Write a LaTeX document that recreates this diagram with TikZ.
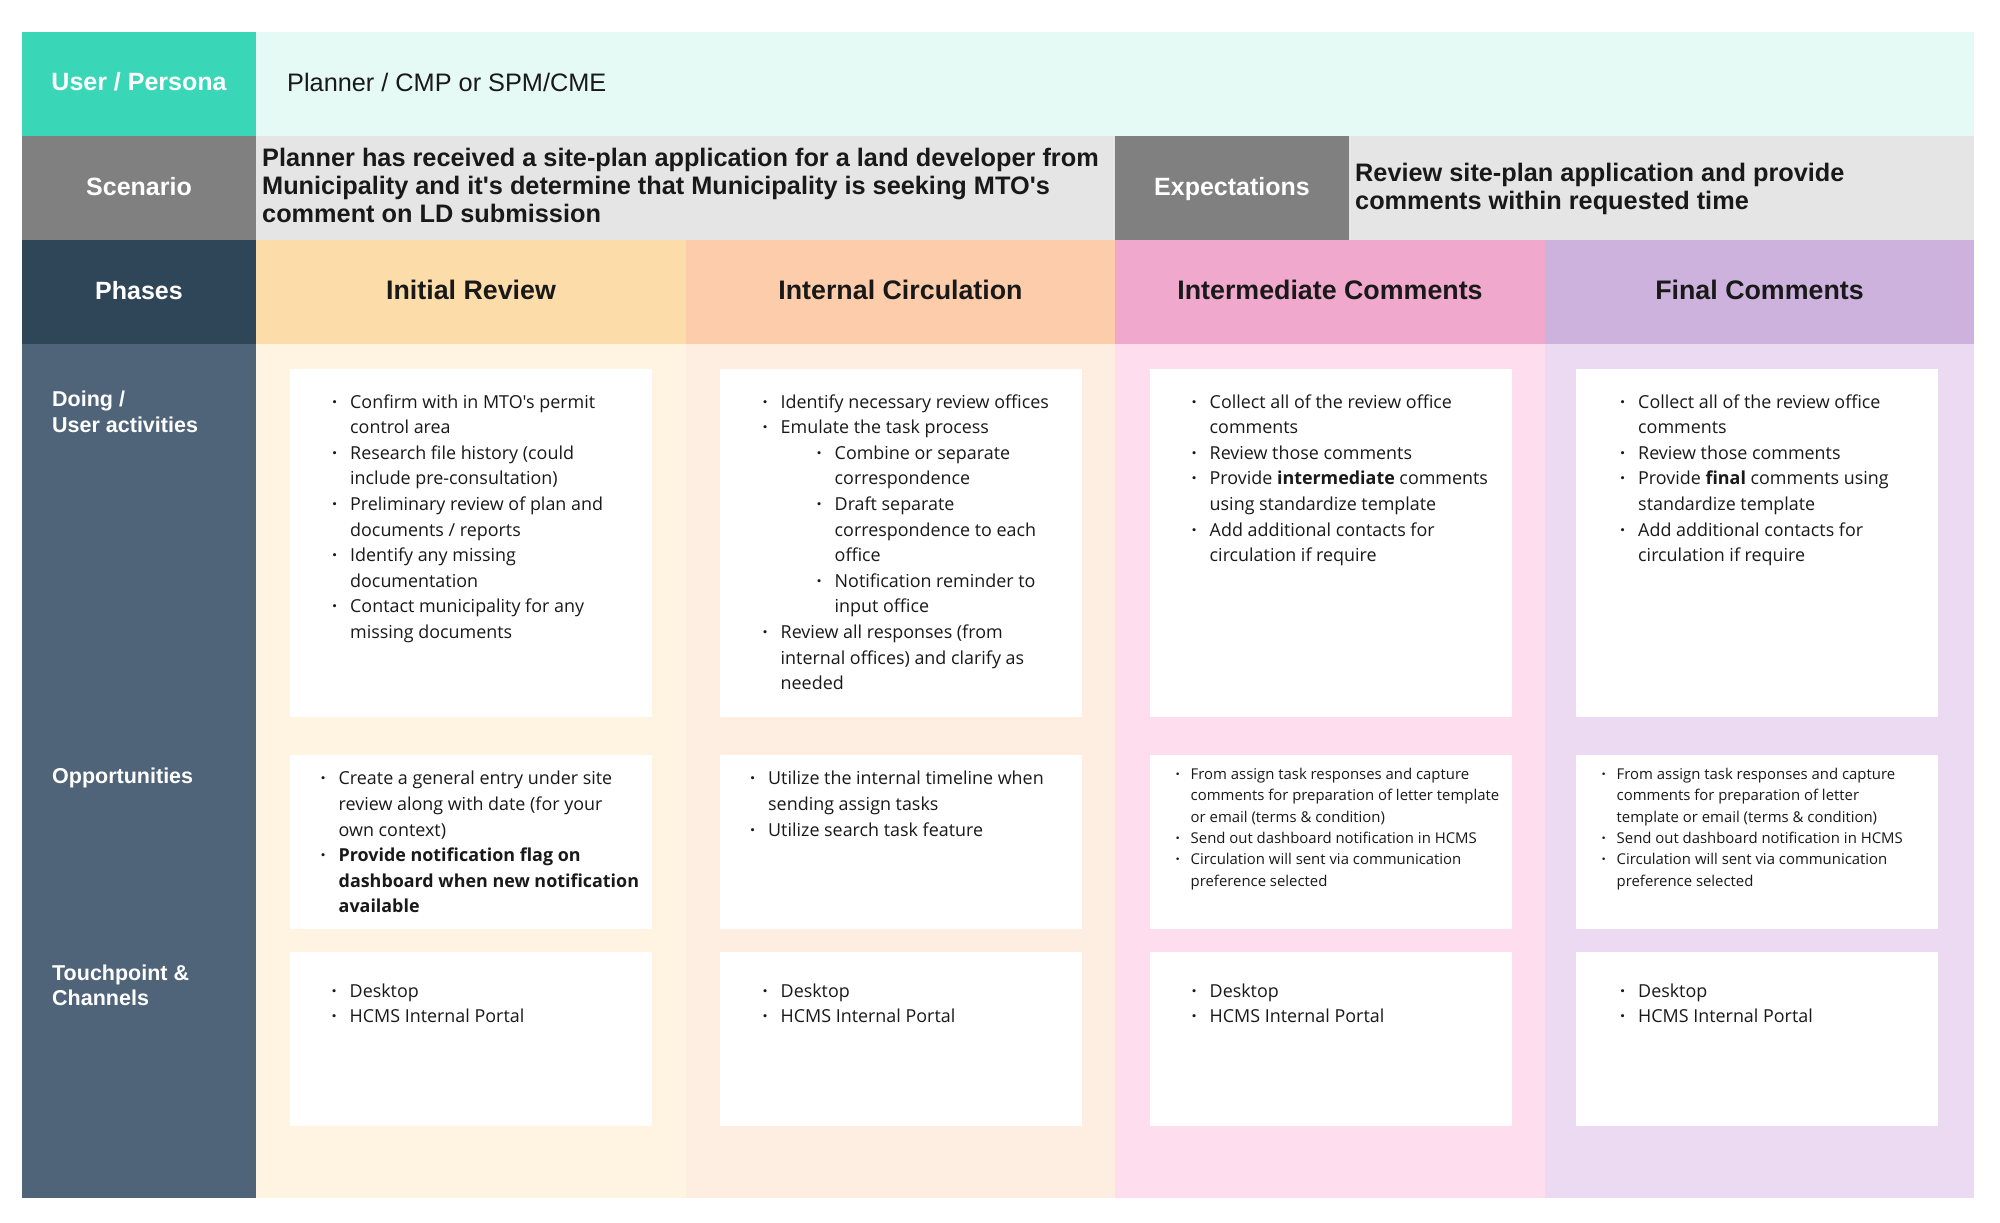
\documentclass[tikz,border=0pt]{standalone}
\usepackage{fontspec}
\setmainfont{Liberation Sans}
\newfontfamily\cardfont{Open Sans}
\usetikzlibrary{positioning}

\definecolor{tealhead}{HTML}{3AD6B8}
\definecolor{tealbody}{HTML}{E6FAF5}
\definecolor{greyhead}{HTML}{808080}
\definecolor{greybody}{HTML}{E5E5E5}
\definecolor{navyhead}{HTML}{2F4558}
\definecolor{slatebody}{HTML}{4F6479}
\definecolor{peachhead}{HTML}{FCDCA9}
\definecolor{peachbody}{HTML}{FFF4E2}
\definecolor{orangehead}{HTML}{FDCDAB}
\definecolor{orangebody}{HTML}{FEEDE1}
\definecolor{pinkhead}{HTML}{F0A8CC}
\definecolor{pinkbody}{HTML}{FDDDEE}
\definecolor{purplehead}{HTML}{CDB2DD}
\definecolor{purplebody}{HTML}{EBDAF2}

\newcommand{\bul}{\llap{\textbf{\textperiodcentered}\hspace{0.72em}}}
\newcommand{\subbul}{\hspace*{54pt}\bul}
\newcommand{\subln}{\hspace*{54pt}}

\tikzset{
  band/.style={inner sep=0pt,outer sep=0pt,minimum height=104pt},
  lab/.style={band,minimum width=234pt,text=white,text height=19pt,text depth=5pt,font=\fontsize{25}{28}\selectfont\bfseries},
  phase/.style={band,minimum width=430pt,text=black!90,text height=20pt,text depth=5pt,font=\fontsize{26.8}{30}\selectfont\bfseries},
  column/.style={inner sep=0pt,outer sep=0pt,minimum width=430pt,minimum height=854pt},
  card/.style={fill=white,inner sep=0pt,outer sep=0pt,minimum width=362pt},
  tallcard/.style={card,minimum height=348pt},
  lowcard/.style={card,minimum height=174pt},
  sidetext/.style={inner sep=0pt,align=left,text=white,font=\fontsize{21.5}{25.6}\selectfont\bfseries},
  blurb/.style={inner sep=0pt,align=left,text=black!90,font=\fontsize{25.3}{28}\selectfont\bfseries},
  items/.style={inner sep=0pt,align=left,text=black!90,font=\cardfont\fontsize{17.9}{25.6}\selectfont},
  smallitems/.style={inner sep=0pt,align=left,text=black!90,font=\cardfont\fontsize{14.9}{21.3}\selectfont}
}

\begin{document}
\begin{tikzpicture}[x=1pt,y=1pt,node distance=0pt]
  \useasboundingbox (0,0) rectangle (2000,-1223);

  % left hand labels
  \node[lab,fill=tealhead,anchor=north west] (persona) at (22,-32) {User / Persona};
  \node[lab,fill=greyhead] (scenario) [below=of persona] {Scenario};
  \node[lab,fill=navyhead] (phases) [below=of scenario] {Phases};
  \node[fill=slatebody,inner sep=0pt,outer sep=0pt,minimum width=234pt,minimum height=854pt] (side) [below=of phases] {};

  % top bands
  \node[band,fill=tealbody,minimum width=1718pt] (personabody) [right=of persona] {};
  \node[band,fill=greybody,minimum width=859pt] (scenariobody) [right=of scenario] {};
  \node[lab,fill=greyhead] (expect) [right=of scenariobody] {Expectations};
  \node[band,fill=greybody,minimum width=625pt] (expectbody) [right=of expect] {};

  % phase headers
  \node[phase,fill=peachhead] (initial) [right=of phases] {Initial Review};
  \node[phase,fill=orangehead,minimum width=429pt] (internal) [right=of initial] {Internal Circulation};
  \node[phase,fill=pinkhead] (intermediate) [right=of internal] {Intermediate Comments};
  \node[phase,fill=purplehead,minimum width=429pt] (final) [right=of intermediate] {Final Comments};

  % phase bodies
  \node[column,fill=peachbody] (initialbody) [below=of initial] {};
  \node[column,fill=orangebody,minimum width=429pt] (internalbody) [below=of internal] {};
  \node[column,fill=pinkbody] (intermediatebody) [below=of intermediate] {};
  \node[column,fill=purplebody,minimum width=429pt] (finalbody) [below=of final] {};

  % cards
  \node[tallcard] (doingA) [below=24.5pt of initialbody.north] {};
  \node[lowcard] (oppA) [below=38pt of doingA] {};
  \node[lowcard] (touchA) [below=23pt of oppA] {};
  \node[tallcard] (doingB) [below=24.5pt of internalbody.north] {};
  \node[lowcard] (oppB) [below=38pt of doingB] {};
  \node[lowcard] (touchB) [below=23pt of oppB] {};
  \node[tallcard,xshift=.5pt] (doingC) [below=24.5pt of intermediatebody.north] {};
  \node[lowcard] (oppC) [below=38pt of doingC] {};
  \node[lowcard] (touchC) [below=23pt of oppC] {};
  \node[tallcard,xshift=-2.5pt] (doingD) [below=24.5pt of finalbody.north] {};
  \node[lowcard] (oppD) [below=38pt of doingD] {};
  \node[lowcard] (touchD) [below=23pt of oppD] {};

  % texts in the bands
  \node[inner sep=0pt,yshift=2pt,font=\fontsize{25.3}{28}\selectfont,text=black!90] (personatext) [right=31pt of personabody.west] {Planner / CMP or SPM/CME};
  \node[blurb,yshift=2.3pt] (scenariotext) [right=6pt of scenariobody.west] {Planner has received a site-plan application for a land developer from\\Municipality and it\textquotesingle s determine that Municipality is seeking MTO\textquotesingle s\\comment on LD submission};
  \node[blurb,yshift=-.5pt] (expecttext) [right=6pt of expectbody.west] {Review site-plan application and provide\\comments within requested time};

  % row names
  \node[sidetext] (doingname) [below right=47pt and 30pt of side.north west] {Doing /\\User activities};
  \node[sidetext] (oppname) [below right=424pt and 30pt of side.north west] {Opportunities};
  \node[sidetext] (touchname) [below right=620.3pt and 30pt of side.north west] {Touchpoint \&\\Channels};

  % doing
  \node[items] (doingAtext) [below right=25.7pt and 60pt of doingA.north west] {\bul Confirm with in MTO's permit\\control area\\\bul Research file history (could\\include pre-consultation)\\\bul Preliminary review of plan and\\documents / reports\\\bul Identify any missing\\documentation\\\bul Contact municipality for any\\missing documents};
  \node[items] (doingBtext) [below right=25.7pt and 61pt of doingB.north west] {\bul Identify necessary review offices\\\bul Emulate the task process\\\subbul Combine or separate\\\subln correspondence\\\subbul Draft separate\\\subln correspondence to each\\\subln office\\\subbul Notification reminder to\\\subln input office\\\bul Review all responses (from\\internal offices) and clarify as\\needed};
  \node[items] (doingCtext) [below right=25.7pt and 60pt of doingC.north west] {\bul Collect all of the review office\\comments\\\bul Review those comments\\\bul Provide \textbf{intermediate} comments\\using standardize template\\\bul Add additional contacts for\\circulation if require};
  \node[items] (doingDtext) [below right=25.7pt and 62pt of doingD.north west] {\bul Collect all of the review office\\comments\\\bul Review those comments\\\bul Provide \textbf{final} comments using\\standardize template\\\bul Add additional contacts for\\circulation if require};

  % opportunities
  \node[items] (oppAtext) [below right=16.5pt and 48.5pt of oppA.north west] {\bul Create a general entry under site\\review along with date (for your\\own context)\\\bul \textbf{Provide notification flag on}\\\textbf{dashboard when new notification}\\\textbf{available}};
  \node[items] (oppBtext) [below right=16.5pt and 48.5pt of oppB.north west] {\bul Utilize the internal timeline when\\sending assign tasks\\\bul Utilize search task feature};
  \node[smallitems] (oppCtext) [below right=13.5pt and 41pt of oppC.north west] {\bul From assign task responses and capture\\comments for preparation of letter template\\or email (terms \& condition)\\\bul Send out dashboard notification in HCMS\\\bul Circulation will sent via communication\\preference selected};
  \node[smallitems] (oppDtext) [below right=13.5pt and 40.5pt of oppD.north west] {\bul From assign task responses and capture\\comments for preparation of letter\\template or email (terms \& condition)\\\bul Send out dashboard notification in HCMS\\\bul Circulation will sent via communication\\preference selected};

  % touchpoints
  \node[items] (touchAtext) [below right=32pt and 59.5pt of touchA.north west] {\bul Desktop\\\bul HCMS Internal Portal};
  \node[items] (touchBtext) [below right=32pt and 61pt of touchB.north west] {\bul Desktop\\\bul HCMS Internal Portal};
  \node[items] (touchCtext) [below right=32pt and 60pt of touchC.north west] {\bul Desktop\\\bul HCMS Internal Portal};
  \node[items] (touchDtext) [below right=32pt and 62pt of touchD.north west] {\bul Desktop\\\bul HCMS Internal Portal};
\end{tikzpicture}
\end{document}
